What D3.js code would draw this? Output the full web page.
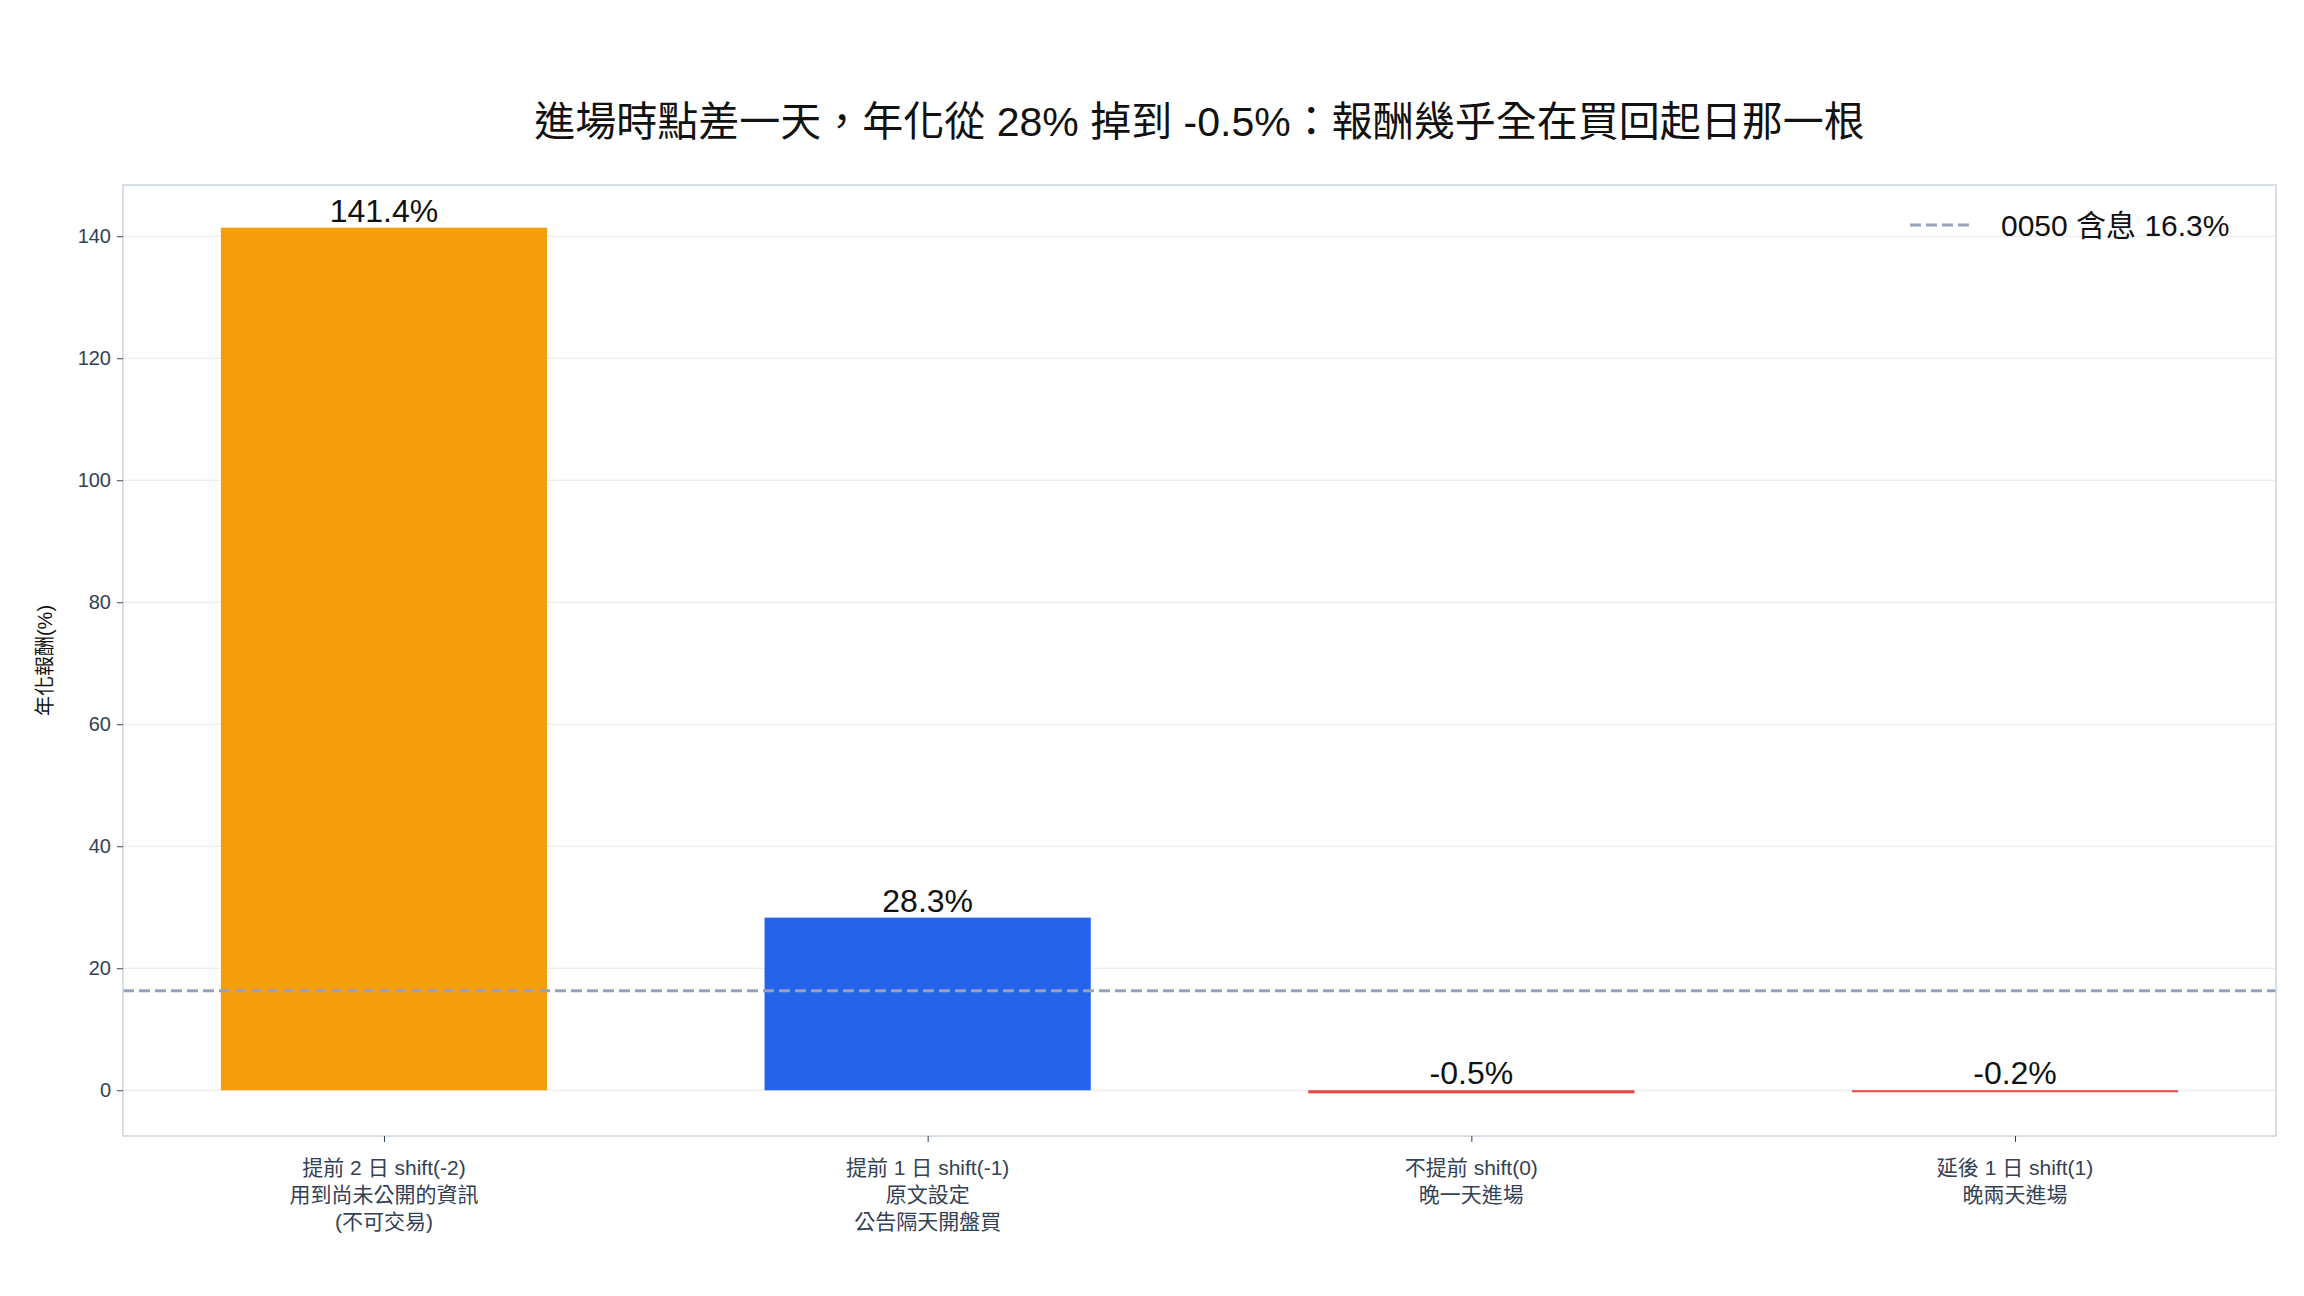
<!DOCTYPE html>
<html><head><meta charset="utf-8">
<script src="https://cdn.jsdelivr.net/npm/d3@7"></script>
<style>body{margin:0;background:#fff}text{font-family:"Liberation Sans","Noto Sans CJK TC",sans-serif}</style>
</head><body><svg id="c" width="2304" height="1296"></svg>
<script>
const categories = [["提前 2 日 shift(-2)","用到尚未公開的資訊","(不可交易)"],["提前 1 日 shift(-1)","原文設定","公告隔天開盤買"],["不提前 shift(0)","晚一天進場"],["延後 1 日 shift(1)","晚兩天進場"]];
const values = [141.4, 28.3, -0.5, -0.2];
const barColors = ["#f59e0b", "#2563eb", "#ef4444", "#ef4444"];
const benchmark = 16.3;
const yTicks = [0, 20, 40, 60, 80, 100, 120, 140];

const svg = d3.select("#c");
const L = 123, R = 2276, T = 185, B = 1136;
const x = d3.scaleLinear().domain([-0.48, 3.48]).range([L, R]);
const y = d3.scaleLinear().domain([-7.5, 148.4]).range([B, T]);
const bw = x(0.6) - x(0);

svg.append("text").attr("x", (L + R) / 2).attr("y", 136).attr("text-anchor", "middle")
  .attr("font-size", 41).attr("fill", "#111").text("進場時點差一天，年化從 28% 掉到 -0.5%：報酬幾乎全在買回起日那一根");

svg.append("g").selectAll("line").data(yTicks).join("line")
  .attr("x1", L).attr("x2", R).attr("y1", d => y(d)).attr("y2", d => y(d))
  .attr("stroke", "#e5e7eb").attr("stroke-width", 1.2);

svg.append("g").selectAll("rect").data(values).join("rect")
  .attr("x", (d, i) => x(i) - bw / 2).attr("width", bw)
  .attr("y", d => y(Math.max(0, d))).attr("height", d => Math.max(2, Math.abs(y(d) - y(0))))
  .attr("fill", (d, i) => barColors[i]);

svg.append("g").selectAll("text").data(values).join("text")
  .attr("x", (d, i) => x(i)).attr("y", d => y(Math.max(0, d)) - 6).attr("text-anchor", "middle")
  .attr("font-size", 32).attr("fill", "#111").text(d => d.toFixed(1) + "%");

svg.append("line").attr("x1", L).attr("x2", R).attr("y1", y(benchmark)).attr("y2", y(benchmark))
  .attr("stroke", "#94a3b8").attr("stroke-width", 3).attr("stroke-dasharray", "11,5");

svg.append("rect").attr("x", L).attr("y", T).attr("width", R - L).attr("height", B - T)
  .attr("fill", "none").attr("stroke", "#cbd5e1").attr("stroke-width", 1.5);

const ya = svg.append("g").attr("transform", `translate(${L},0)`)
  .call(d3.axisLeft(y).tickValues(yTicks).tickSize(6).tickPadding(6));
ya.select(".domain").remove();
ya.selectAll("line").attr("stroke", "#334155");
ya.selectAll("text").attr("font-size", 20).attr("fill", "#334155").style("font-family", "Liberation Sans, sans-serif");

const xa = svg.append("g").attr("transform", `translate(0,${B})`)
  .call(d3.axisBottom(x).tickValues([0, 1, 2, 3]).tickSize(6).tickFormat(""));
xa.select(".domain").remove();
xa.selectAll("line").attr("stroke", "#334155");
svg.append("g").selectAll("text").data(categories).join("text")
  .attr("x", (d, i) => x(i)).attr("y", 1175).attr("text-anchor", "middle")
  .attr("font-size", 21).attr("fill", "#334155")
  .selectAll("tspan").data(d => d).join("tspan")
  .attr("x", function () { return d3.select(this.parentNode).attr("x"); })
  .attr("dy", (d, i) => i ? 27 : 0).text(d => d);

svg.append("text").attr("transform", `translate(52,${(T + B) / 2}) rotate(-90)`)
  .attr("text-anchor", "middle").attr("font-size", 20).attr("fill", "#111").text("年化報酬(%)");

svg.append("line").attr("x1", 1910).attr("x2", 1973).attr("y1", 225).attr("y2", 225)
  .attr("stroke", "#94a3b8").attr("stroke-width", 3).attr("stroke-dasharray", "11,5");
svg.append("text").attr("x", 2001).attr("y", 236).attr("font-size", 30).attr("fill", "#111").text("0050 含息 16.3%");
</script></body></html>
